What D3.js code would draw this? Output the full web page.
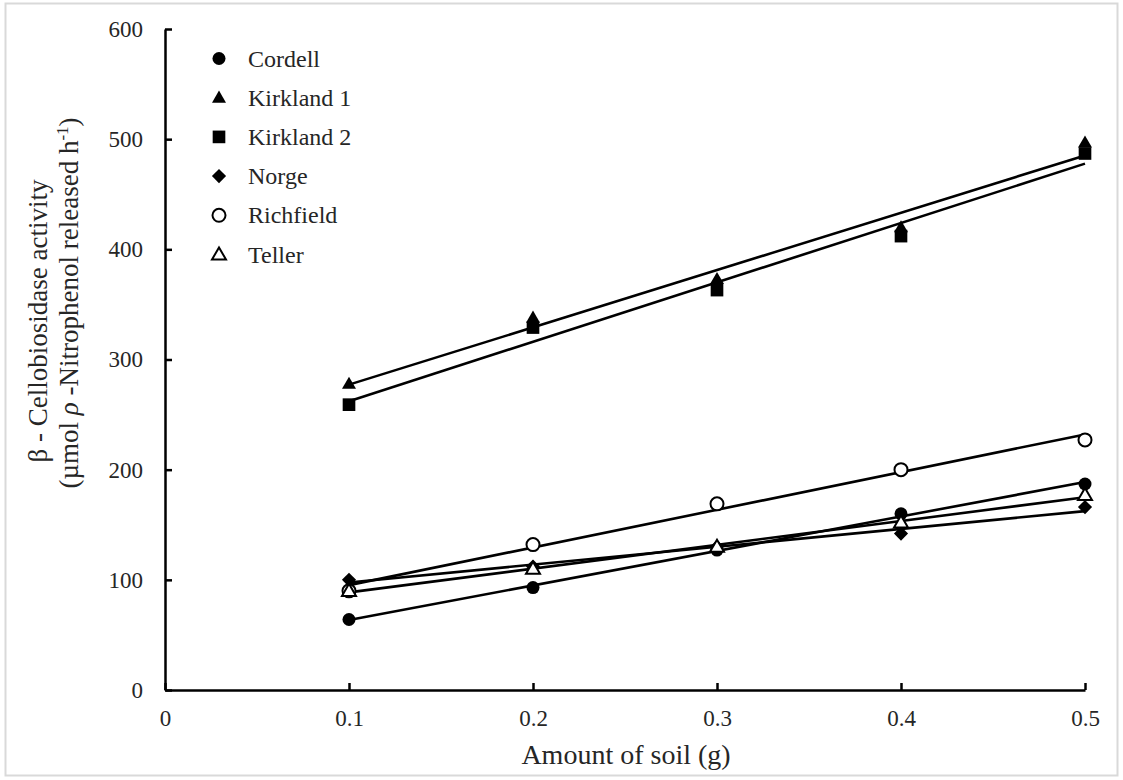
<!DOCTYPE html>
<html>
<head>
<meta charset="utf-8">
<script src="https://cdn.jsdelivr.net/npm/d3@7"></script>
<style>
  body { margin: 0; background: #fff; }
  text { font-family: "Liberation Serif", "Times New Roman", serif; fill: #262626; }
</style>
</head>
<body>
<div id="chart"></div>
<script>
//soil amounts (g)
var soilAmounts = [0.1, 0.2, 0.3, 0.4, 0.5];

//activity values per soil
var cordell = [64, 93, 127, 160, 187];
var kirkland1 = [278, 338, 373, 420, 497];
var kirkland2 = [259, 329, 363, 412, 487];
var norge = [100, 112, 130, 142, 166];
var richfield = [90, 132, 169, 200, 227];
var teller = [90, 110, 130, 152, 177];

var seriesNames = ['Cordell', 'Kirkland 1', 'Kirkland 2', 'Norge', 'Richfield', 'Teller'];
var seriesValues = [cordell, kirkland1, kirkland2, norge, richfield, teller];
var seriesShapes = ['circle', 'triangle', 'square', 'diamond', 'circle', 'triangle'];
var seriesFilled = [true, true, true, true, false, false];

var xTicks = [0, 0.1, 0.2, 0.3, 0.4, 0.5];
var yTicks = [0, 100, 200, 300, 400, 500, 600];

var width = 1123;
var height = 780;

var svg = d3.select('#chart')
    .append('svg')
    .attr('width', width)
    .attr('height', height);

//light frame round the chart
svg.append('rect')
    .attr('x', 5.5)
    .attr('y', 3.5)
    .attr('width', 1112)
    .attr('height', 772)
    .attr('fill', 'none')
    .attr('stroke', '#d9d9d9')
    .attr('stroke-width', 2);

var xScale = d3.scaleLinear().domain([0, 0.5]).range([165, 1085]);
var yScale = d3.scaleLinear().domain([0, 600]).range([690, 29]);

//x axis, ticks point inward
var xAxis = d3.axisBottom(xScale)
    .tickValues(xTicks)
    .tickSizeInner(-7)
    .tickSizeOuter(0)
    .tickPadding(20)
    .tickFormat(function(d) { return d === 0 ? '0' : d3.format('.1f')(d); });

var gx = svg.append('g')
    .attr('transform', 'translate(0,' + 690 + ')')
    .call(xAxis);
gx.selectAll('text').attr('font-size', 23).attr('font-family', '"Liberation Serif", serif').attr('fill', '#262626');
gx.selectAll('line').attr('stroke', '#000').attr('stroke-width', 2.5);
gx.select('.domain').attr('stroke', '#000').attr('stroke-width', 2.5);

//y axis, ticks point inward
var yAxis = d3.axisLeft(yScale)
    .tickValues(yTicks)
    .tickSizeInner(-7)
    .tickSizeOuter(0)
    .tickPadding(22);

var gy = svg.append('g')
    .attr('transform', 'translate(165,0)')
    .call(yAxis);
gy.selectAll('text').attr('font-size', 23).attr('font-family', '"Liberation Serif", serif').attr('fill', '#262626');
gy.selectAll('line').attr('stroke', '#000').attr('stroke-width', 2.5);
gy.select('.domain').attr('stroke', '#000').attr('stroke-width', 2.5);

//axis titles
svg.append('text')
    .attr('x', 626)
    .attr('y', 764)
    .attr('text-anchor', 'middle')
    .attr('font-size', 28)
    .text('Amount of soil (g)');

var yTitle = svg.append('g')
    .attr('transform', 'translate(47,0)rotate(-90)');

yTitle.append('text')
    .attr('x', -321)
    .attr('y', 0)
    .attr('text-anchor', 'middle')
    .attr('font-size', 27)
    .text('\u03B2 - Cellobiosidase activity');

var line2 = yTitle.append('text')
    .attr('x', -303)
    .attr('y', 31)
    .attr('text-anchor', 'middle')
    .attr('font-size', 27);
line2.append('tspan').text('(\u00B5mol ');
line2.append('tspan').attr('font-style', 'italic').text('\u03C1');
line2.append('tspan').text(' -Nitrophenol released h');
line2.append('tspan').attr('font-size', 17).attr('dy', -10).text('-1');
line2.append('tspan').attr('dy', 10).text(')');

//symbol generator for each marker shape
function symbolFor(shape) {
    if (shape === 'circle') return d3.symbol().type(d3.symbolCircle).size(133);
    if (shape === 'triangle') return d3.symbol().type(d3.symbolTriangle).size(85);
    if (shape === 'square') return d3.symbol().type(d3.symbolSquare).size(160);
    return d3.symbol().type(d3.symbolSquare).size(100);
}

function markerTransform(shape, x, y) {
    if (shape === 'triangle') return 'translate(' + x + ',' + (y + 1) + ')';
    if (shape === 'diamond') return 'translate(' + x + ',' + y + ')rotate(45)';
    return 'translate(' + x + ',' + y + ')';
}

//least squares fit for trend lines
function fit(xs, ys) {
    var mx = d3.mean(xs), my = d3.mean(ys);
    var num = d3.sum(xs, function(x, i) { return (x - mx) * (ys[i] - my); });
    var den = d3.sum(xs, function(x) { return (x - mx) * (x - mx); });
    var slope = num / den;
    return { slope: slope, intercept: my - slope * mx };
}

var xMinFit = d3.min(soilAmounts);
var xMaxFit = d3.max(soilAmounts);

seriesValues.forEach(function(vals, s) {
    var f = fit(soilAmounts, vals);
    svg.append('line')
        .attr('x1', xScale(xMinFit))
        .attr('y1', yScale(f.intercept + f.slope * xMinFit))
        .attr('x2', xScale(xMaxFit))
        .attr('y2', yScale(f.intercept + f.slope * xMaxFit))
        .attr('stroke', '#000')
        .attr('stroke-width', 2.6);
});

seriesValues.forEach(function(vals, s) {
    var sym = symbolFor(seriesShapes[s]);
    svg.append('g')
        .selectAll('path')
        .data(vals)
        .enter()
        .append('path')
        .attr('d', sym)
        .attr('transform', function(d, i) {
            return markerTransform(seriesShapes[s], xScale(soilAmounts[i]), yScale(d));
        })
        .attr('fill', seriesFilled[s] ? '#000' : '#fff')
        .attr('stroke', '#000')
        .attr('stroke-width', seriesFilled[s] ? 0 : 2);
});

//legend
var legend = svg.append('g');
seriesNames.forEach(function(name, s) {
    var ly = 58.5 + s * 39.2;
    var sym = symbolFor(seriesShapes[s]);
    legend.append('path')
        .attr('d', sym)
        .attr('transform', markerTransform(seriesShapes[s], 219, ly))
        .attr('fill', seriesFilled[s] ? '#000' : '#fff')
        .attr('stroke', '#000')
        .attr('stroke-width', seriesFilled[s] ? 0 : 2);
    legend.append('text')
        .attr('x', 248)
        .attr('y', ly + 8)
        .attr('font-size', 24)
        .text(name);
});
</script>
</body>
</html>
